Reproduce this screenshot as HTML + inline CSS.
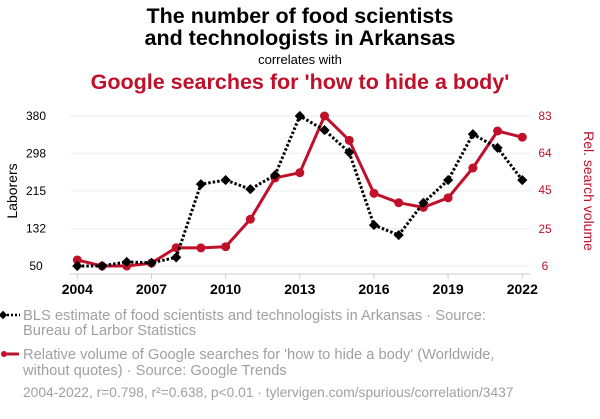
<!DOCTYPE html>
<html><head><meta charset="utf-8"><style>
body{margin:0;background:#fff;width:600px;height:414px;overflow:hidden;font-family:"Liberation Sans",sans-serif}
</style></head><body>
<svg id="chart" width="600" height="414" xmlns="http://www.w3.org/2000/svg" font-family="Liberation Sans, sans-serif">
<text x="300" y="23" text-anchor="middle" font-size="21.5" font-weight="bold" fill="#000">The number of food scientists</text>
<text x="300" y="45" text-anchor="middle" font-size="21.5" font-weight="bold" fill="#000">and technologists in Arkansas</text>
<text x="300" y="64" text-anchor="middle" font-size="13" fill="#000">correlates with</text>
<text x="300" y="89" text-anchor="middle" font-size="21.5" font-weight="bold" fill="#c0102a">Google searches for 'how to hide a body'</text>
<text transform="translate(17,191) rotate(-90)" text-anchor="middle" font-size="14" fill="#000">Laborers</text>
<text transform="translate(584,191) rotate(90)" text-anchor="middle" font-size="14" fill="#c0102a">Rel. search volume</text>
<g id="grid"></g><g id="axes"></g><g id="marks"></g>
<g font-size="14.7" fill="#a0a0a0">
<line x1="3" y1="315" x2="20" y2="315" stroke="#000" stroke-width="2.5" stroke-dasharray="2,2"/>
<rect x="0" y="312" width="6" height="6" transform="rotate(45 3 315)" fill="#000"/>
<text x="23" y="320">BLS estimate of food scientists and technologists in Arkansas · Source:</text>
<text x="23" y="335">Bureau of Larbor Statistics</text>
<line x1="3" y1="354" x2="19" y2="354" stroke="#c0102a" stroke-width="3"/>
<circle cx="4" cy="354" r="3" fill="#c0102a"/>
<text x="23" y="359">Relative volume of Google searches for 'how to hide a body' (Worldwide,</text>
<text x="23" y="375">without quotes) · Source: Google Trends</text>
<text x="23" y="397" font-size="13.8">2004-2022, r=0.798, r²=0.638, p&lt;0.01 · tylervigen.com/spurious/correlation/3437</text>
</g>
</svg>
<script>
const years=[2004,2005,2006,2007,2008,2009,2010,2011,2012,2013,2014,2015,2016,2017,2018,2019,2020,2021,2022];
const laborers=[50,50,59,57,69,230,239,219,250,380,349,300,140,118,189,239,340,310,239];
const searches=[9.1,6,6,7.5,15.4,15.3,15.9,30,51.2,53.9,83,70.5,43.3,38.5,36.1,41,56.3,75.3,72.1];
const leftTicks=[50,132,215,298,380];
const rightTicks=[6,25,45,64,83];
const xTicks=[2004,2007,2010,2013,2016,2019,2022];
const NS='http://www.w3.org/2000/svg';
const x=v=>77.3+(v-2004)*(445/18);
const yl=v=>266-(v-50)*150/330;
const yr=v=>266-(v-6)*150/77;
function mk(t,a,p){const e=document.createElementNS(NS,t);for(const k in a)e.setAttribute(k,a[k]);document.getElementById(p).appendChild(e);return e;}
leftTicks.forEach((v,i)=>{
 const g=mk('line',{x1:70,x2:530,y1:yl(v),y2:yl(v),stroke:'#eeeeee','stroke-width':1},'grid');
 
 
 const t=mk('text',{x:36,y:yl(v)+4,'text-anchor':'middle','font-size':12,fill:'#000'},'axes');t.textContent=v;
 
 
});
rightTicks.forEach(v=>{
 const t=mk('text',{x:545,y:yr(v)+4,'text-anchor':'middle','font-size':12,fill:'#c0102a'},'axes');t.textContent=v;
 
 
});
const ax=mk('line',{x1:70,x2:530,y1:274,y2:274,stroke:'#ccc'},'axes');


xTicks.forEach(v=>{
 mk('line',{x1:x(v),x2:x(v),y1:274,y2:279,stroke:'#ccc'},'axes');
 const t=mk('text',{x:x(v),y:294,'text-anchor':'middle','font-size':14,'font-weight':'bold',fill:'#000'},'axes');t.textContent=v;
 
 
});
const rl=mk('polyline',{points:years.map((y,i)=>x(y)+','+yr(searches[i])).join(' '),fill:'none',stroke:'#c0102a','stroke-width':3,'stroke-linejoin':'round'},'marks');


years.forEach((y,i)=>{
 const c=mk('circle',{cx:x(y),cy:yr(searches[i]),r:4.5,fill:'#c0102a'},'marks');
 
 
});
const bl=mk('polyline',{points:years.map((y,i)=>x(y)+','+yl(laborers[i])).join(' '),fill:'none',stroke:'#000','stroke-width':3,'stroke-dasharray':'2.5,2'},'marks');


years.forEach((y,i)=>{
 const cx=x(y),cy=yl(laborers[i]);
 const r=mk('rect',{x:cx-3.6,y:cy-3.6,width:7.2,height:7.2,fill:'#000',transform:`rotate(45 ${cx} ${cy})`},'marks');
 
 
});
</script>
</body></html>
